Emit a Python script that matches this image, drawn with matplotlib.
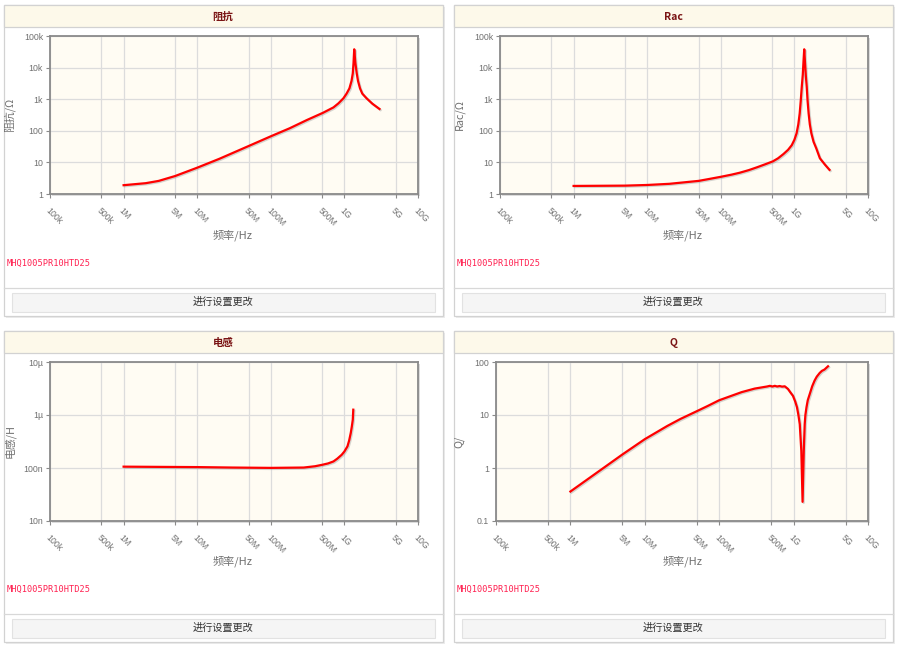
import matplotlib
matplotlib.use("Agg")
import matplotlib.pyplot as plt
import matplotlib.patches as mpatches
import matplotlib.patheffects as pe

plt.rcParams['font.family'] = ['Noto Sans CJK SC', 'DejaVu Sans']

# ---------------- data ----------------
x_ticks = [1e5, 5e5, 1e6, 5e6, 1e7, 5e7, 1e8, 5e8, 1e9, 5e9, 1e10]
x_tick_labels = ['100k', '500k', '1M', '5M', '10M', '50M', '100M', '500M', '1G', '5G', '10G']

freq_z = [1e6, 2e6, 3e6, 5e6, 1e7, 2e7, 5e7, 1e8, 1.8e8, 3.1e8, 5.1e8, 7.1e8, 8.3e8,
          9.7e8, 1.07e9, 1.17e9, 1.25e9, 1.3e9, 1.33e9, 1.36e9, 1.41e9, 1.47e9, 1.53e9,
          1.63e9, 1.75e9, 2.0e9, 2.4e9, 3.0e9]
impedance = [1.9, 2.2, 2.6, 3.7, 6.8, 13, 33, 67, 120, 220, 370, 550, 740,
             1070, 1500, 2200, 3800, 6600, 14000, 38000, 14000, 6600, 3800,
             2200, 1500, 1070, 720, 490]

freq_r = [1e6, 5e6, 1e7, 2e7, 5e7, 7e7, 1e8, 1.4e8, 1.8e8, 2.4e8, 3.1e8, 4e8, 5.1e8, 6e8,
          7.1e8, 8.2e8, 9.2e8, 1.0e9, 1.07e9, 1.13e9, 1.18e9, 1.22e9, 1.26e9, 1.3e9, 1.33e9,
          1.36e9, 1.39e9, 1.43e9, 1.47e9, 1.51e9, 1.56e9, 1.62e9, 1.7e9, 1.82e9, 1.98e9,
          2.22e9, 2.6e9, 3.0e9]
rac = [1.8, 1.84, 1.93, 2.1, 2.6, 3.0, 3.5, 4.1, 4.7, 5.7, 7.0, 8.7, 10.8, 13.5,
       18.4, 25, 35, 52, 83, 160, 356, 900, 2500, 6000, 16000,
       38000, 16000, 5500, 2500, 900, 356, 160, 83, 45, 28,
       13.5, 8.5, 5.8]

freq_l = [1e6, 3e6, 1e7, 3e7, 1e8, 2.8e8, 4e8, 5e8, 6e8, 7.1e8, 8e8, 9.2e8, 1.0e9,
          1.1e9, 1.16e9, 1.22e9, 1.26e9, 1.3e9, 1.32e9]
inductance = [106e-9, 105e-9, 104e-9, 102e-9, 100.5e-9, 102e-9, 108e-9, 115e-9, 122e-9,
              133e-9, 150e-9, 178e-9, 205e-9, 256e-9, 330e-9, 458e-9, 600e-9, 815e-9,
              1.26e-6]

freq_q = [1e6, 2e6, 3e6, 5e6, 1e7, 2e7, 3e7, 5e7, 7e7, 1e8, 2e8, 3e8, 4.4e8, 4.8e8,
          5.2e8, 5.6e8, 6.0e8, 6.5e8, 7.0e8, 7.6e8, 8.4e8, 9.0e8, 9.8e8, 1.05e9, 1.11e9,
          1.16e9, 1.21e9, 1.27e9, 1.32e9, 1.37e9, 1.41e9, 1.44e9, 1.49e9, 1.55e9, 1.65e9,
          1.78e9, 1.92e9, 2.05e9, 2.24e9, 2.4e9, 2.6e9, 2.9e9]
q = [0.36, 0.72, 1.08, 1.8, 3.5, 6.2, 8.4, 11.8, 14.8, 19, 27, 31.5, 34.5, 35.5,
     34.5, 35.5, 34.5, 35.2, 34.3, 34.8, 31, 27, 23, 18, 14,
     10, 6.7, 2.1, 0.23, 2.1, 6.7, 10, 14, 19, 25,
     35, 45, 53, 62, 68, 72, 83]

titles = ['阻抗', 'Rac', '电感', 'Q']
y_labels = ['阻抗/Ω', 'Rac/Ω', '电感/H', 'Q/']
x_label = '频率/Hz'
part_name = 'MHQ1005PR10HTD25'
button_text = '进行设置更改'

y_ticks_z = [1, 10, 100, 1e3, 1e4, 1e5]
y_tick_labels_z = ['1', '10', '100', '1k', '10k', '100k']
y_ticks_l = [1e-8, 1e-7, 1e-6, 1e-5]
y_tick_labels_l = ['10n', '100n', '1µ', '10µ']
y_ticks_q = [0.1, 1, 10, 100]
y_tick_labels_q = ['0.1', '1', '10', '100']

# ---------------- layout ----------------
W, H = 900, 647
fig = plt.figure(figsize=(W / 100, H / 100), dpi=100)
fig.patch.set_facecolor('white')

bg = fig.add_axes([0, 0, 1, 1])
bg.set_xlim(0, W)
bg.set_ylim(H, 0)
bg.axis('off')

PW, PH = 439, 311
panel_origins = [(4, 5), (454, 5), (4, 331), (454, 331)]
# plot rect relative to panel origin: (left, top, right, bottom)
plot_rects = [(46, 31, 414, 189), (46, 31, 414, 189), (46, 31, 414, 190), (42, 31, 414, 190)]

series = [
    (freq_z, impedance, y_ticks_z, y_tick_labels_z),
    (freq_r, rac, y_ticks_z, y_tick_labels_z),
    (freq_l, inductance, y_ticks_l, y_tick_labels_l),
    (freq_q, q, y_ticks_q, y_tick_labels_q),
]

grey_txt = '#707070'
for i, (ox, oy) in enumerate(panel_origins):
    # panel shadow and body
    bg.add_patch(mpatches.Rectangle((ox + 1.5, oy + 1.5), PW, PH, fc='#ececec', ec='none'))
    bg.add_patch(mpatches.Rectangle((ox, oy), PW, PH, fc='white', ec='#d2d2d2', lw=0.9))
    # title bar
    bg.add_patch(mpatches.Rectangle((ox, oy), PW, 22, fc='#fdf9ea', ec='#d2d2d2', lw=0.9))
    bg.text(ox + PW / 2 - 0.5, oy + 11.5, titles[i], ha='center', va='center',
            fontsize=7.5, fontweight='bold', color='#7a1414')
    # footer
    bg.plot([ox, ox + PW], [oy + 283, oy + 283], color='#d8d8d8', lw=0.9)
    bg.add_patch(mpatches.Rectangle((ox + 8, oy + 288), PW - 16, 18.5, fc='#f5f5f5',
                                    ec='#e2e2e2', lw=0.8))
    bg.text(ox + PW / 2, oy + 297.3, button_text, ha='center', va='center',
            fontsize=7.3, color='#333333')
    # part name
    bg.text(ox + 3, oy + 258, part_name, ha='left', va='center', fontsize=6.2,
            family=['DejaVu Sans Mono'], color='#ff2050')
    # axis labels
    l, t, r, b = plot_rects[i]
    bg.text(ox + 229, oy + 230.5, x_label, ha='center', va='center', fontsize=8,
            color=grey_txt)
    bg.text(ox + 5.5, oy + (t + b) / 2, y_labels[i], ha='center', va='center',
            fontsize=7.8, color=grey_txt, rotation=90)
    # plot shadow
    bg.add_patch(mpatches.Rectangle((ox + l + 2, oy + t + 2), r - l, b - t, fc='#dcdcdc',
                                    ec='none'))

    ax = fig.add_axes([(ox + l) / W, 1 - (oy + b) / H, (r - l) / W, (b - t) / H])
    ax.set_facecolor('#fffcf3')
    fx, fy, yt, ytl = series[i]
    ax.set_xscale('log')
    ax.set_yscale('log')
    ax.set_xlim(1e5, 1e10)
    ax.set_ylim(yt[0], yt[-1])
    ax.set_xticks(x_ticks)
    ax.set_xticklabels(x_tick_labels, rotation=-45, ha='left', va='top',
                       rotation_mode='anchor', fontsize=6.3, color=grey_txt,
                       family=['Liberation Sans'])
    ax.set_yticks(yt)
    ax.set_yticklabels(ytl, fontsize=6.3, color=grey_txt, family=['Liberation Sans', 'DejaVu Sans'])
    ax.minorticks_off()
    ax.tick_params(axis='x', length=3, width=0.8, color='#8a8a8a', pad=5.5)
    ax.tick_params(axis='y', length=3, width=0.8, color='#8a8a8a', pad=2)
    ax.grid(True, which='major', color='#dcdcdc', lw=0.9)
    ax.set_axisbelow(True)
    for s in ax.spines.values():
        s.set_color('#8a8a8a')
        s.set_linewidth(1.3)
    ax.plot(fx, fy, color='#ff0000', lw=1.6, solid_joinstyle='round',
            path_effects=[pe.SimpleLineShadow(offset=(0.8, -0.8), shadow_color='#888888',
                                              alpha=0.35), pe.Normal()])

fig.savefig('out.png', dpi=100, facecolor='white')
